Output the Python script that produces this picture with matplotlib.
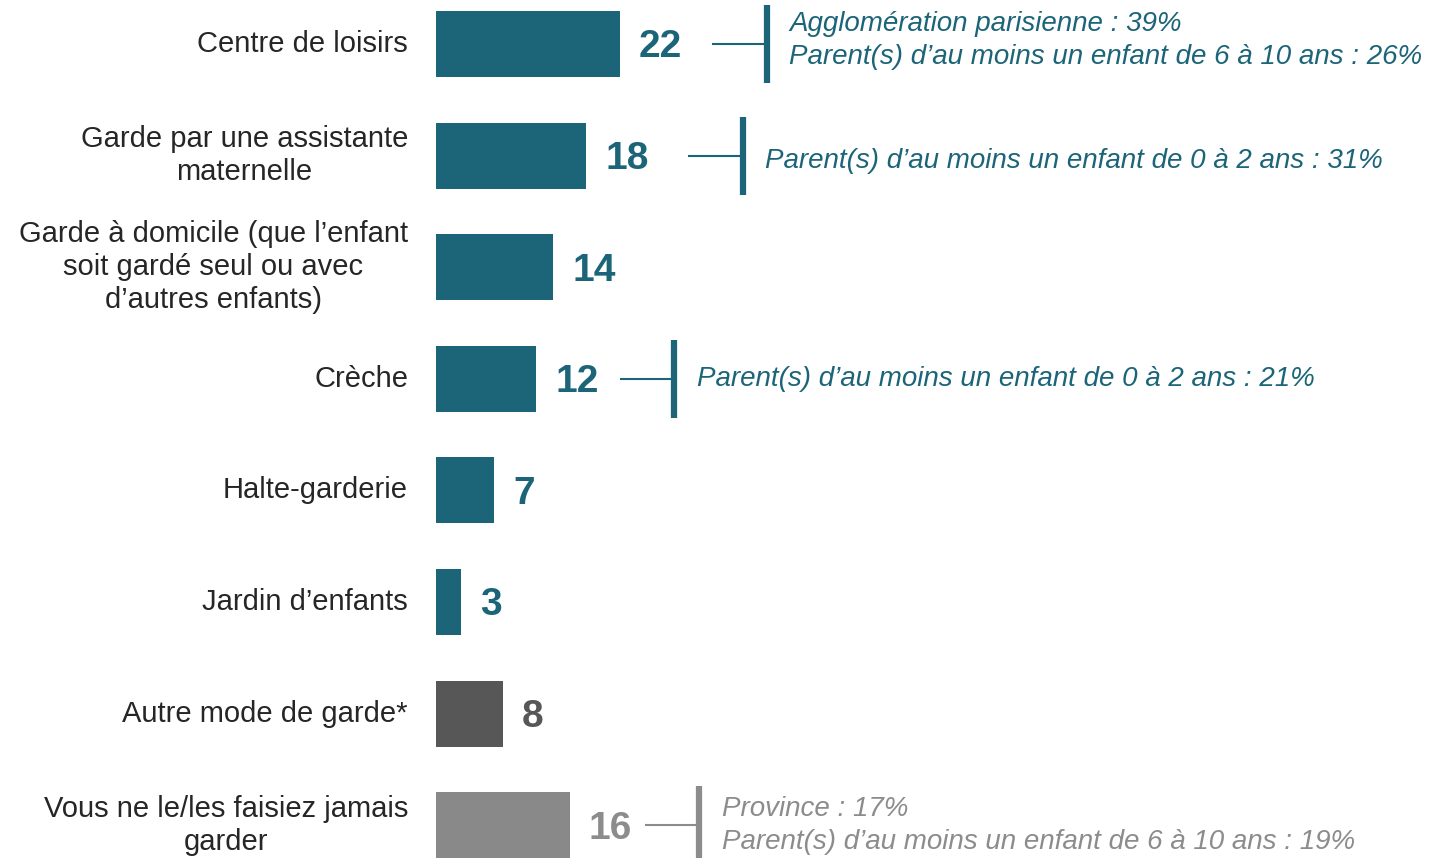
import matplotlib
matplotlib.use("Agg")
import matplotlib.pyplot as plt
from matplotlib.transforms import blended_transform_factory

plt.rcParams['font.family'] = ['Liberation Sans', 'DejaVu Sans']

categories = [
    "Centre de loisirs",
    "Garde par une assistante\nmaternelle",
    "Garde à domicile (que l\u2019enfant\nsoit gardé seul ou avec\nd\u2019autres enfants)",
    "Crèche",
    "Halte-garderie",
    "Jardin d\u2019enfants",
    "Autre mode de garde*",
    "Vous ne le/les faisiez jamais\ngarder",
]
values = [22, 18, 14, 12, 7, 3, 8, 16]

notes = {
    0: "Agglomération parisienne : 39%\nParent(s) d\u2019au moins un enfant de 6 à 10 ans : 26%",
    1: "Parent(s) d\u2019au moins un enfant de 0 à 2 ans : 31%",
    3: "Parent(s) d\u2019au moins un enfant de 0 à 2 ans : 21%",
    7: "Province : 17%\nParent(s) d\u2019au moins un enfant de 6 à 10 ans : 19%",
}

# layout / style
TEAL = "#1C6579"
DARK = "#575757"
LIGHT = "#898989"
LIGHT_TXT = "#8C8C8C"
bar_colors = [TEAL] * 6 + [DARK, LIGHT]
label_colors = [TEAL] * 6 + [DARK, LIGHT_TXT]
note_x = {0: 33.05, 1: 30.2, 3: 22.0, 7: 25.0}  # connector start (data units)
note_dy = {0: -0.03, 1: 0.05, 3: 0.0, 7: 0.0}

W, H = 1437, 858
fig = plt.figure(figsize=(W / 100, H / 100), dpi=100)
ax = fig.add_axes([436 / W, 0, 1 - 436 / W, 1])
px = 8.35
ax.set_xlim(0, (W - 436) / px)
sp = 111.6
ax.set_ylim((H - 44) / sp, -44 / sp)
ax.axis('off')

ypos = list(range(len(values)))
ax.barh(ypos, values, height=0.59, color=bar_colors)

tr = blended_transform_factory(fig.transFigure, ax.transData)
for i, (c, v) in enumerate(zip(categories, values)):
    ax.text(408 / W, i, c, transform=tr, ha='right', va='center',
            multialignment='center', fontsize=21, color='#262626', linespacing=1.22)
    ax.text(v + 2.3, i + 0.03, str(v), ha='left', va='center', fontsize=28,
            fontweight='bold', color=label_colors[i])

for i, txt in notes.items():
    col = label_colors[i]
    x0 = note_x[i]
    x1 = x0 + 6.55
    ax.plot([x0, x1], [i, i], color=col, lw=1.5, solid_capstyle='butt')
    ax.plot([x1, x1], [i - 0.35, i + 0.35], color=col, lw=4.5, solid_capstyle='butt')
    ax.text(x1 + 2.7, i + note_dy[i], txt, ha='left', va='center', fontsize=20,
            style='italic', color=col, linespacing=1.34)

fig.savefig("out.png", dpi=100)
